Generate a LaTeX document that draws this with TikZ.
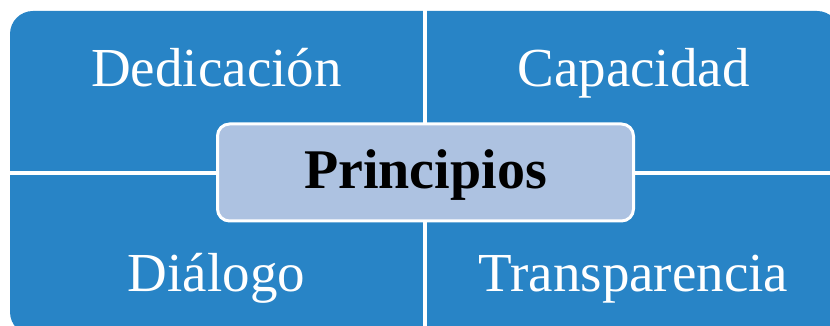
\documentclass[tikz,border=0pt]{standalone}
\usepackage{fontspec}
\setmainfont{Liberation Serif}
\definecolor{quadblue}{HTML}{2884C6}
\definecolor{centerblue}{HTML}{ADC2E1}
\tikzset{
  quadtext/.style={text=white, anchor=base, inner sep=0pt, font=\fontsize{55}{62}\selectfont},
  centerbox/.style={fill=centerblue, draw=white, line width=3pt, rounded corners=12pt,
    minimum width=416pt, minimum height=97pt, inner sep=0pt},
}
\begin{document}
\begin{tikzpicture}[x=1pt,y=1pt]
\useasboundingbox (0,0) rectangle (830,326);
\clip (0,0) rectangle (830,326);
% outer body of the four quadrants
\fill[quadblue, rounded corners=23pt] (10,-9) rectangle (840,315);
% white gaps between quadrants
\fill[white] (423,-20) rectangle (427,330);
\fill[white] (0,151) rectangle (840,155);
% quadrant labels
\node[quadtext] (q1) at (216.5,239) {Dedicación};
\node[quadtext] (q2) at (633.5,239) {Capacidad};
\node[quadtext] (q3) at (216.5,34) {Diálogo};
\node[quadtext] (q4) at (633.5,34) {Transparencia};
% centre box
\node[centerbox] (c) at (425.5,153.5) {};
\node[anchor=base, inner sep=0pt, font=\fontsize{56}{62}\selectfont\bfseries] (ct) at (425.5,137) {Principios};
\end{tikzpicture}
\end{document}
